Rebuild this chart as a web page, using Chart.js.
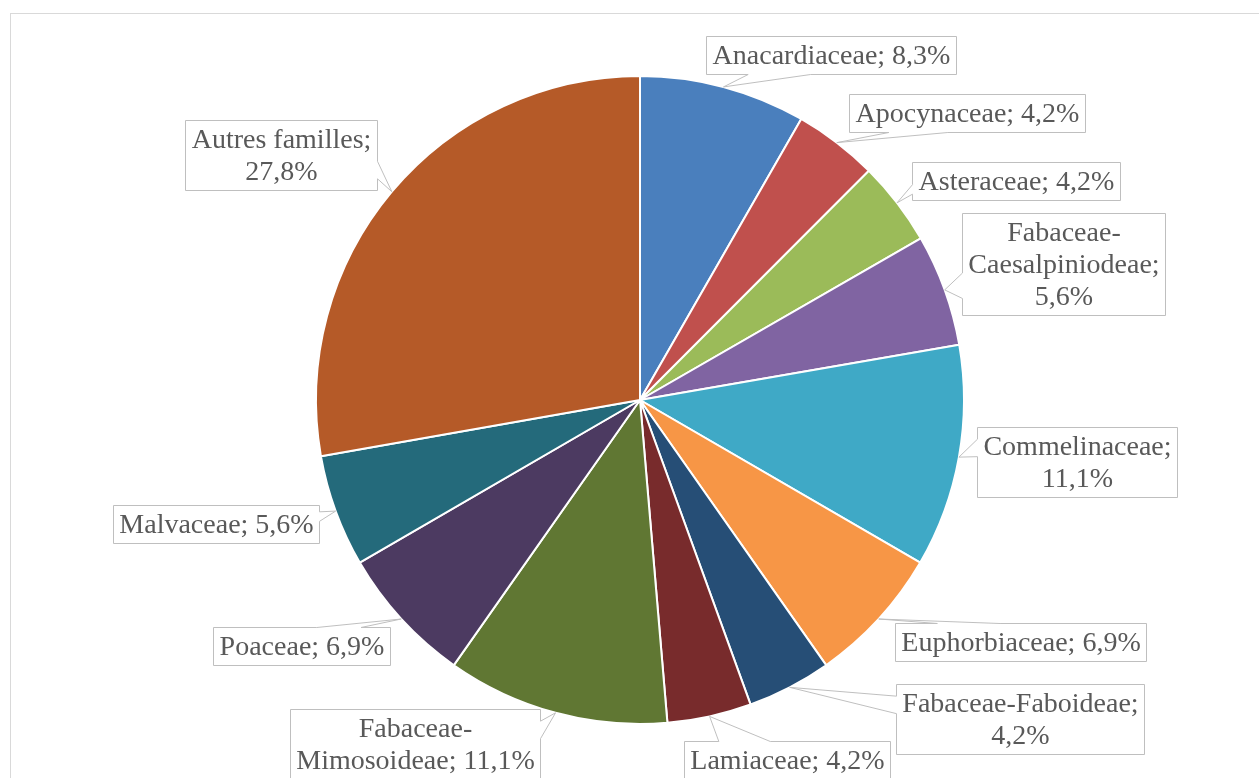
<!DOCTYPE html>
<html>
<head>
<meta charset="utf-8">
<title>Familles</title>
<script src="https://cdn.jsdelivr.net/npm/chart.js@4"></script>
<style>
  html, body { margin: 0; padding: 0; background: #fff; }
  #wrap { width: 1259px; height: 778px; position: relative; }
</style>
</head>
<body>
<div id="wrap"><canvas id="pieChart"></canvas></div>
<script>
var familles = ["Anacardiaceae", "Apocynaceae", "Asteraceae", "Fabaceae-Caesalpiniodeae",
  "Commelinaceae", "Euphorbiaceae", "Fabaceae-Faboideae", "Lamiaceae",
  "Fabaceae-Mimosoideae", "Poaceae", "Malvaceae", "Autres familles"];
var pourcentages = [8.3, 4.2, 4.2, 5.6, 11.1, 6.9, 4.2, 4.2, 11.1, 6.9, 5.6, 27.8];

var couleurs = ['#4A7FBD', '#C0504D', '#9BBB59', '#8064A2', '#3FA9C6', '#F79646',
  '#264E76', '#782B2C', '#607733', '#4C3A61', '#246A7B', '#B55A28'];

// callout boxes: centre offset from the slice edge, and max text width before wrapping
var callouts = [
  { dx: 108, dy: -32, wrap: 300 },
  { dx: 130, dy: -30, wrap: 300 },
  { dx: 119, dy: -22, wrap: 300 },
  { dx: 119, dy: -26, wrap: 200 },
  { dx: 118, dy: 5, wrap: 210 },
  { dx: 142, dy: 23, wrap: 300 },
  { dx: 230, dy: 32, wrap: 250 },
  { dx: 77, dy: 44, wrap: 300 },
  { dx: -141, dy: 31, wrap: 245 },
  { dx: -100, dy: 27, wrap: 300 },
  { dx: -120, dy: 13, wrap: 300 },
  { dx: -111, dy: -37, wrap: 200 }
];

var FONT = '28px "Liberation Serif", "Times New Roman", serif';
var LINE_H = 32, PAD_X = 6, PAD_Y = 3;

function wrapText(ctx, text, maxW) {
  var parts = text.match(/[^ -]+[- ]?/g);
  var lines = [], line = '';
  parts.forEach(function (p) {
    var test = line + p;
    if (line && ctx.measureText(test.trim()).width > maxW) {
      lines.push(line.trim());
      line = p;
    } else {
      line = test;
    }
  });
  lines.push(line.trim());
  return lines;
}

// rectangle with a wedge pointing at (tx, ty), same rules as an office callout
function calloutPath(ctx, l, t, w, h, tx, ty) {
  var r = l + w, b = t + h;
  var cx = l + w / 2, cy = t + h / 2;
  var dx = tx - cx, dy = ty - cy;
  var dq = dx * h / w;
  var edge = Math.abs(dy) > Math.abs(dq) ? (dy < 0 ? 'top' : 'bottom') : (dx < 0 ? 'left' : 'right');
  var fx = dx > 0 ? [7, 10] : [2, 5];
  var fy = dy > 0 ? [7, 10] : [2, 5];
  var x1 = l + w * fx[0] / 12, x2 = l + w * fx[1] / 12;
  var y1 = t + h * fy[0] / 12, y2 = t + h * fy[1] / 12;

  ctx.beginPath();
  ctx.moveTo(l, t);
  if (edge === 'top') { ctx.lineTo(x1, t); ctx.lineTo(tx, ty); ctx.lineTo(x2, t); }
  ctx.lineTo(r, t);
  if (edge === 'right') { ctx.lineTo(r, y1); ctx.lineTo(tx, ty); ctx.lineTo(r, y2); }
  ctx.lineTo(r, b);
  if (edge === 'bottom') { ctx.lineTo(x2, b); ctx.lineTo(tx, ty); ctx.lineTo(x1, b); }
  ctx.lineTo(l, b);
  if (edge === 'left') { ctx.lineTo(l, y2); ctx.lineTo(tx, ty); ctx.lineTo(l, y1); }
  ctx.closePath();
}

var framePlugin = {
  id: 'frame',
  beforeDraw: function (chart) {
    var ctx = chart.ctx;
    ctx.save();
    ctx.strokeStyle = '#d9d9d9';
    ctx.lineWidth = 1;
    ctx.strokeRect(10.5, 13.5, 1400, 1000);
    ctx.restore();
  }
};

var calloutPlugin = {
  id: 'callouts',
  afterDatasetsDraw: function (chart) {
    var ctx = chart.ctx;
    var meta = chart.getDatasetMeta(0);
    ctx.save();
    ctx.font = FONT;
    meta.data.forEach(function (arc, i) {
      var mid = (arc.startAngle + arc.endAngle) / 2;
      var tx = arc.x + Math.cos(mid) * arc.outerRadius;
      var ty = arc.y + Math.sin(mid) * arc.outerRadius;
      var c = callouts[i];
      var text = familles[i] + '; ' + pourcentages[i].toFixed(1).replace('.', ',') + '%';
      var lines = wrapText(ctx, text, c.wrap);
      var textW = Math.max.apply(null, lines.map(function (s) { return ctx.measureText(s).width; }));
      var w = Math.round(textW + 2 * PAD_X);
      var h = lines.length * LINE_H + 2 * PAD_Y;
      var l = Math.round(tx + c.dx - w / 2) + 0.5;
      var t = Math.round(ty + c.dy - h / 2) + 0.5;

      calloutPath(ctx, l, t, w, h, tx, ty);
      ctx.fillStyle = '#ffffff';
      ctx.fill();
      ctx.strokeStyle = '#bfbfbf';
      ctx.lineWidth = 1;
      ctx.stroke();

      ctx.fillStyle = '#595959';
      ctx.textAlign = 'center';
      ctx.textBaseline = 'middle';
      lines.forEach(function (s, k) {
        ctx.fillText(s, l + w / 2, t + PAD_Y + LINE_H * (k + 0.5) + 1);
      });
    });
    ctx.restore();
  }
};

var ctp = document.getElementById('pieChart').getContext('2d');
var chart = new Chart(ctp, {
  type: 'pie',
  data: {
    labels: familles,
    datasets: [{
      data: pourcentages,
      backgroundColor: couleurs,
      borderColor: '#ffffff',
      borderWidth: 2,
      hoverOffset: 0
    }]
  },
  options: {
    responsive: true,
    maintainAspectRatio: false,
    animation: false,
    layout: {
      padding: { top: 75, bottom: 53, left: 315, right: 294 }
    },
    plugins: {
      legend: { display: false },
      tooltip: { enabled: false }
    }
  },
  plugins: [framePlugin, calloutPlugin]
});
</script>
</body>
</html>
